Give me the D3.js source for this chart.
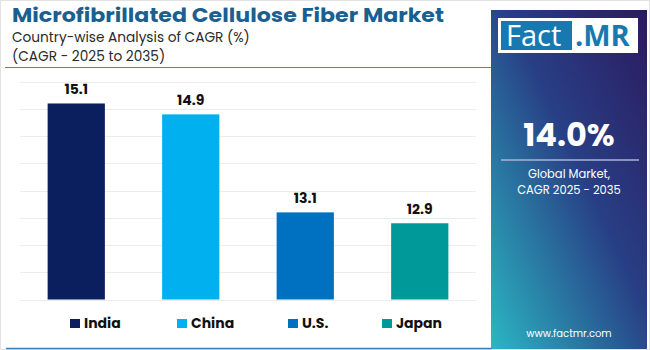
<!DOCTYPE html>
<html>
<head>
<meta charset="utf-8">
<script src="https://cdn.jsdelivr.net/npm/d3@7"></script>
<style>
  html, body { margin: 0; padding: 0; background: #fff; }
  svg { display: block; }
</style>
</head>
<body>
<div id="chart"></div>
<script>
const countries = ["India", "China", "U.S.", "Japan"];
const cagrValues = [15.1, 14.9, 13.1, 12.9];
const barColors = ["#0b1f5e", "#00b0ef", "#0070c0", "#009999"];
const gridTicks = [11.5, 12, 12.5, 13, 13.5, 14, 14.5, 15, 15.5];
const globalCagr = "14.0%";

(() => {
    const width = 650, height = 350;
    const font = "Poppins, Inter, 'Open Sans', sans-serif";

    const data = countries.map((c, i) => ({ country: c, value: cagrValues[i], color: barColors[i] }));

    const svg = d3.select("#chart").append("svg")
        .attr("width", width)
        .attr("height", height);

    // outer frame
    svg.append("rect")
        .attr("x", 0.5).attr("y", 0.5)
        .attr("width", width - 1).attr("height", height - 1)
        .attr("fill", "#fff").attr("stroke", "#e2e2e2");

    // titles
    svg.append("text")
        .attr("x", 12).attr("y", 22)
        .attr("textLength", 432).attr("lengthAdjust", "spacingAndGlyphs")
        .style("font-family", font).style("font-weight", 700).style("font-size", "19px")
        .attr("fill", "#1b5f8f")
        .text("Microfibrillated Cellulose Fiber Market");

    svg.append("text")
        .attr("x", 12).attr("y", 42)
        .style("font-family", font).style("font-size", "13.7px")
        .attr("fill", "#2a2a2a")
        .text("Country-wise Analysis of CAGR (%)");

    svg.append("text")
        .attr("x", 12).attr("y", 61)
        .style("font-family", font).style("font-size", "13.7px")
        .attr("fill", "#2a2a2a")
        .text("(CAGR - 2025 to 2035)");

    svg.append("line")
        .attr("x1", 5).attr("x2", 492).attr("y1", 67.5).attr("y2", 67.5)
        .attr("stroke", "#3f86c0").attr("stroke-width", 1);

    svg.append("line")
        .attr("x1", 6).attr("x2", 492).attr("y1", 348.5).attr("y2", 348.5)
        .attr("stroke", "#3a7fb8").attr("stroke-width", 1.5);

    // scales
    const x = d3.scaleBand()
        .domain(countries)
        .range([19, 477])
        .paddingInner(0.5)
        .paddingOuter(0.25);

    const y = d3.scaleLinear()
        .domain([11.5, 15.5])
        .range([299.5, 81.7]);

    // gridlines
    svg.append("g")
        .selectAll("line")
        .data(gridTicks)
        .enter()
        .append("line")
        .attr("x1", 20).attr("x2", 476)
        .attr("y1", d => Math.round(y(d)) + 0.5)
        .attr("y2", d => Math.round(y(d)) + 0.5)
        .attr("stroke", "#ececec");

    // bars
    svg.selectAll(".bar")
        .data(data)
        .enter()
        .append("rect")
        .attr("class", "bar")
        .attr("x", d => x(d.country))
        .attr("y", d => y(d.value))
        .attr("width", x.bandwidth())
        .attr("height", d => y(11.5) - y(d.value))
        .attr("fill", d => d.color);

    svg.selectAll(".label")
        .data(data)
        .enter()
        .append("text")
        .attr("class", "label")
        .attr("x", d => x(d.country) + x.bandwidth() / 2)
        .attr("y", d => y(d.value) - 9)
        .attr("text-anchor", "middle")
        .style("font-family", font).style("font-weight", 700).style("font-size", "14px")
        .attr("fill", "#111")
        .text(d => d.value.toFixed(1));

    // legend
    const legendX = [70, 177, 288, 382];
    const legend = svg.selectAll(".legend")
        .data(data)
        .enter()
        .append("g")
        .attr("class", "legend")
        .attr("transform", (d, i) => `translate(${legendX[i]},318)`);

    legend.append("rect")
        .attr("y", 1)
        .attr("width", 10).attr("height", 9)
        .attr("fill", d => d.color);

    legend.append("text")
        .attr("x", 14).attr("y", 10)
        .style("font-family", font).style("font-weight", 700).style("font-size", "14px")
        .attr("fill", "#111")
        .text(d => d.country);

    // right panel
    const defs = svg.append("defs");
    const grad = defs.append("linearGradient")
        .attr("id", "panelGrad")
        .attr("x1", "100%").attr("y1", "0%")
        .attr("x2", "0%").attr("y2", "100%");
    grad.append("stop").attr("offset", "0%").attr("stop-color", "#2c1a5f");
    grad.append("stop").attr("offset", "45%").attr("stop-color", "#283f85");
    grad.append("stop").attr("offset", "100%").attr("stop-color", "#2bb7c3");

    const px = 491, pw = 156;
    svg.append("rect")
        .attr("x", px).attr("y", 10)
        .attr("width", pw).attr("height", 339)
        .attr("fill", "url(#panelGrad)");

    // logo
    svg.append("rect")
        .attr("x", 498).attr("y", 18)
        .attr("width", 140).attr("height", 35)
        .attr("fill", "#fff");
    svg.append("rect")
        .attr("x", 501).attr("y", 21)
        .attr("width", 71).attr("height", 29)
        .attr("fill", "#1878b0");
    svg.append("text")
        .attr("x", 506).attr("y", 46)
        .style("font-family", "'Open Sans', sans-serif").style("font-size", "29px")
        .attr("fill", "#fff")
        .text("Fact");
    svg.append("text")
        .attr("x", 575).attr("y", 46)
        .style("font-family", "'Open Sans', sans-serif").style("font-weight", 700).style("font-size", "29px")
        .attr("fill", "#1878b0")
        .text(".MR");

    const cx = px + pw / 2;
    svg.append("text")
        .attr("x", cx).attr("y", 146)
        .attr("text-anchor", "middle")
        .style("font-family", font).style("font-weight", 700).style("font-size", "32px")
        .attr("fill", "#fff")
        .text(globalCagr);

    svg.append("line")
        .attr("x1", 501).attr("x2", 639).attr("y1", 160).attr("y2", 160)
        .attr("stroke", "#aab4d8").attr("stroke-width", 1.5);

    svg.append("text")
        .attr("x", cx).attr("y", 178)
        .attr("text-anchor", "middle")
        .style("font-family", font).style("font-size", "11.5px")
        .attr("fill", "#fff")
        .text("Global Market,");
    svg.append("text")
        .attr("x", cx).attr("y", 194)
        .attr("text-anchor", "middle")
        .style("font-family", font).style("font-size", "11.5px")
        .attr("fill", "#fff")
        .text("CAGR 2025 - 2035");

    svg.append("text")
        .attr("x", cx).attr("y", 337)
        .attr("text-anchor", "middle")
        .style("font-family", font).style("font-size", "10px")
        .attr("fill", "#fff")
        .text("www.factmr.com");
})();
</script>
</body>
</html>
